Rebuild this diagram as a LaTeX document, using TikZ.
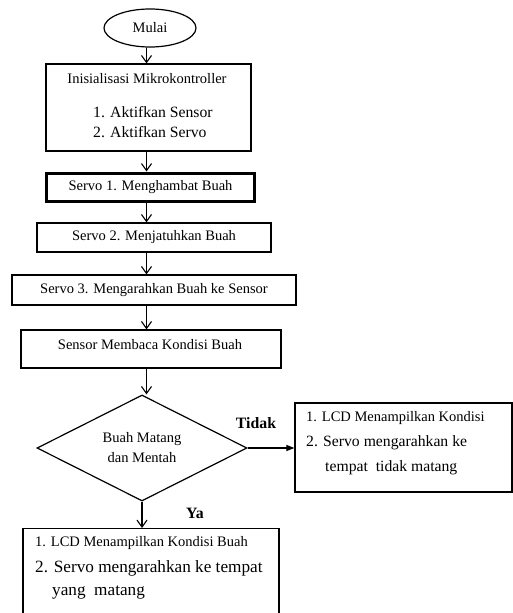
\documentclass[tikz,border=0pt]{standalone}
\usepackage{fontspec}
\setmainfont{Liberation Serif}
\usetikzlibrary{shapes.geometric,arrows.meta}
\tikzset{
  box/.style={draw,line width=1.2pt,inner sep=0pt},
  flow/.style={-{Straight Barb[length=7pt,width=10pt]},line width=1.1pt},
  txt/.style={inner sep=0pt,font=\fontsize{14.5}{17}\selectfont},
  txtb/.style={inner sep=0pt,font=\fontsize{15.7}{18}\selectfont},
  txtc/.style={inner sep=0pt,font=\fontsize{17.2}{20}\selectfont},
  lbl/.style={inner sep=0pt,font=\bfseries\fontsize{15.8}{18}\selectfont}
}
\begin{document}
\begin{tikzpicture}[x=1pt,y=-1pt]
\clip (0,0) rectangle (513,613);
\coordinate (axis) at (146.5,0);

\node[draw,ellipse,line width=1.2pt,minimum width=92pt,minimum height=38pt,inner sep=0pt,txt] (mulai) at (150,28) {Mulai};

\node[box,minimum width=205pt,minimum height=87pt] (init) at (148.5,107.5) {};
\node[txt] (initT) at (147,79) {Inisialisasi Mikrokontroller};
\node[txtb,anchor=west] (initA) at (93,112) {1. Aktifkan Sensor};
\node[txtb,anchor=west] (initB) at (93,132) {2. Aktifkan Servo};

\node[box,txt,line width=3pt,minimum width=208pt,minimum height=28pt] (servoA) at (150.5,187) {Servo 1. Menghambat Buah};
\node[box,txt,minimum width=234pt,minimum height=29pt] (servoB) at (154,237.5) {Servo 2. Menjatuhkan Buah};
\node[box,txt,minimum width=284pt,minimum height=30pt] (servoC) at (154,290) {Servo 3. Mengarahkan Buah ke Sensor};

\node[box,minimum width=260pt,minimum height=38pt] (baca) at (151,349) {};
\node[txt] (bacaT) at (150,345) {Sensor Membaca Kondisi Buah};

\node[draw,diamond,line width=1.2pt,minimum width=210pt,minimum height=106pt,shape aspect=2,inner sep=0pt,align=center,font=\fontsize{14.5}{20}\selectfont] (cek) at (142,448) {Buah Matang\\dan Mentah};

% edit here for the tidak branch
\node[box,minimum width=217pt,minimum height=89pt] (mentah) at (403.5,447.5) {};
\node[txt,anchor=west] (mentahA) at (306,418) {1. LCD Menampilkan Kondisi};
\node[txtb,anchor=west] (mentahB) at (306,443) {2. Servo mengarahkan ke};
\node[txtb,anchor=west] (mentahC) at (325,468) {tempat\ \ tidak matang};

% edit here for the ya branch
\node[box,minimum width=256pt,minimum height=130pt,anchor=north] (matang) at (151,528) {};
\node[txt,anchor=west] (matangA) at (35,543) {1. LCD Menampilkan Kondisi Buah};
\node[txtc,anchor=west] (matangB) at (35,568) {2. Servo mengarahkan ke tempat};
\node[txtc,anchor=west] (matangC) at (52,593) {yang\ \ matang};

\node[lbl] (tidak) at (256,423) {Tidak};
\node[lbl] (ya) at (195,513) {Ya};

\foreach \a/\b in {mulai/init,init/servoA,servoA/servoB,servoB/servoC,servoC/baca,baca/cek}
\draw[flow] (\a.south -| axis) -- (\b.north -| axis);

\draw[flow] (cek.south) -- (matang.north -| cek.south);
\draw[-{Triangle[length=8pt,width=6pt]},line width=1.1pt] (cek.east) -- (mentah.west |- cek.east);
\end{tikzpicture}
\end{document}
